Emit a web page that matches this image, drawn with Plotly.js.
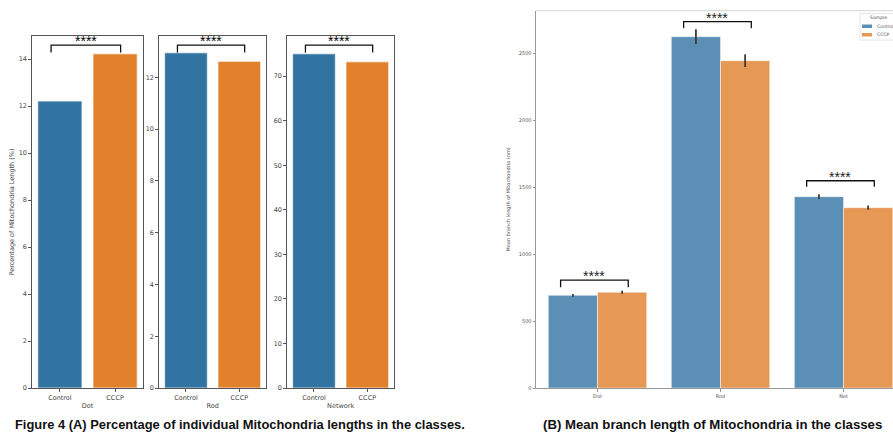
<!DOCTYPE html>
<html><head><meta charset="utf-8">
<script src="https://cdn.plot.ly/plotly-3.0.1.min.js"></script>
<style>html,body{margin:0;padding:0;background:#fff}#chart{width:893px;height:441px}</style>
</head><body><div id="chart"></div>
<script>
// ---- data ----
const groups = ['Control', 'CCCP'];
const classesA = ['Dot', 'Rod', 'Network'];
const dotPct = [12.21, 14.22];
const rodPct = [12.95, 12.62];
const netPct = [75.0, 73.2];
const yTicksDot = [0, 2, 4, 6, 8, 10, 12, 14];
const yTicksRod = [0, 2, 4, 6, 8, 10, 12];
const yTicksNet = [0, 10, 20, 30, 40, 50, 60, 70];

const classesB = ['Dot', 'Rod', 'Net'];
const branchControl = [692, 2624, 1429];
const branchCCCP = [715, 2445, 1347];
const errControl = [10, 55, 18];
const errCCCP = [12, 47, 16];
const yTicksB = [0, 500, 1000, 1500, 2000, 2500];
const sigLabel = '****';
const bracketB = [[805, 753], [2736, 2687], [1548, 1504]];

const captionA = 'Figure 4 (A) Percentage of individual Mitochondria lengths in the classes.';
const captionB = '(B) Mean branch length of Mitochondria in the classes';

// ---- styling ----
const W = 893, H = 441;
const px = x => x / W;
const py = y => 1 - y / H;
const blueA = '#3274a1', orangeA = '#e1812c';
const blueB = '#5b8fb6', orangeB = '#e69855';
const fontFam = 'DejaVu Sans, sans-serif';
const starFam = 'Liberation Sans, Arial, sans-serif';
const tickCol = '#444';

const panelsA = [
  {vals: dotPct, name: classesA[0], ticks: yTicksDot, top: 14.98, dom: [px(32.3), px(142.7)]},
  {vals: rodPct, name: classesA[1], ticks: yTicksRod, top: 13.6, dom: [px(159.3), px(266)]},
  {vals: netPct, name: classesA[2], ticks: yTicksNet, top: 79.0, dom: [px(287.3), px(394)]}
];

const traces = [];
const layout = {
  width: W, height: H,
  margin: {l: 0, r: 0, t: 0, b: 0},
  paper_bgcolor: '#fff', plot_bgcolor: '#fff',
  showlegend: false,
  bargap: 0.2, bargroupgap: 0,
  font: {family: fontFam, color: tickCol, size: 7},
  shapes: [], annotations: []
};

panelsA.forEach((p, i) => {
  const n = i + 1;
  const xa = 'x' + (n === 1 ? '' : n), ya = 'y' + (n === 1 ? '' : n);
  traces.push({
    type: 'bar', x: groups, y: p.vals, xaxis: xa, yaxis: ya,
    marker: {color: [blueA, orangeA], line: {color: 'rgba(255,255,255,0.7)', width: 1}},
    hoverinfo: 'x+y'
  });
  const axBase = {
    showgrid: false, zeroline: false, showline: true, mirror: true,
    linecolor: '#555', linewidth: 1, ticks: 'outside', ticklen: 3, tickcolor: '#555',
    tickfont: {size: 6.5, color: tickCol, family: fontFam}
  };
  layout['xaxis' + (n === 1 ? '' : n)] = Object.assign({}, axBase, {
    domain: p.dom, anchor: ya, type: 'category', range: [-0.5, 1.5],
    title: {text: p.name, font: {size: 6.5, color: tickCol}, standoff: 2}
  });
  layout['yaxis' + (n === 1 ? '' : n)] = Object.assign({}, axBase, {
    domain: [py(388), py(36)], anchor: xa, range: [0, p.top],
    tickvals: p.ticks, ticktext: p.ticks.map(String),
    title: i === 0 ? {text: 'Percentage of Mitochondria Length (%)', font: {size: 6.5, color: tickCol}, standoff: 3} : undefined
  });
  // significance bracket
  const yr = ya + ' domain';
  layout.shapes.push({
    type: 'path', xref: xa, yref: yr,
    path: 'M -0.16 0.953 L -0.16 0.974 L 1.1 0.974 L 1.1 0.953',
    line: {color: '#111', width: 1.3}
  });
  layout.annotations.push({
    xref: xa, yref: yr, x: 0.47, y: 0.974, text: sigLabel, showarrow: false,
    yanchor: 'bottom', yshift: -6, font: {size: 14, color: '#000000', family: starFam}
  });
});

// panel B
traces.push({
  type: 'bar', name: groups[0], x: classesB, y: branchControl, xaxis: 'x4', yaxis: 'y4',
  marker: {color: blueB, line: {color: 'rgba(255,255,255,0.6)', width: 0.8}},
  error_y: {type: 'data', array: errControl, visible: true, color: '#3c3c3c', thickness: 1.8, width: 0}
});
traces.push({
  type: 'bar', name: groups[1], x: classesB, y: branchCCCP, xaxis: 'x4', yaxis: 'y4',
  marker: {color: orangeB, line: {color: 'rgba(255,255,255,0.6)', width: 0.8}},
  error_y: {type: 'data', array: errCCCP, visible: true, color: '#3c3c3c', thickness: 1.8, width: 0}
});
layout.barmode = 'group';
layout.xaxis4 = {
  domain: [px(536), 1], anchor: 'y4', type: 'category', range: [-0.5, 2.402],
  showgrid: false, zeroline: false, showline: true, linecolor: '#999', linewidth: 1,
  ticks: 'outside', ticklen: 2.5, tickcolor: '#999',
  tickfont: {size: 5, color: '#555', family: fontFam}
};
layout.yaxis4 = {
  domain: [py(388), py(10.7)], anchor: 'x4', range: [0, 2818],
  tickvals: yTicksB, ticktext: yTicksB.map(String),
  showgrid: false, zeroline: false, showline: true, linecolor: '#999', linewidth: 1,
  ticks: 'outside', ticklen: 2.5, tickcolor: '#999',
  tickfont: {size: 5, color: '#555', family: fontFam},
  title: {text: 'Mean branch length of Mitochondria (nm)', font: {size: 5, color: '#555'}, standoff: 8}
};
// top spine of panel B
layout.shapes.push({type: 'line', xref: 'x4 domain', yref: 'y4 domain', x0: 0, x1: 1, y0: 1, y1: 1,
  line: {color: '#d6d6d6', width: 1}});
bracketB.forEach((b, i) => {
  const l = i - 0.3, r = i + 0.25;
  layout.shapes.push({
    type: 'path', xref: 'x4', yref: 'y4',
    path: `M ${l} ${b[1]} L ${l} ${b[0]} L ${r} ${b[0]} L ${r} ${b[1]}`,
    line: {color: '#111', width: 1.3}
  });
  layout.annotations.push({
    xref: 'x4', yref: 'y4', x: (l + r) / 2, y: b[0], text: sigLabel, showarrow: false,
    yanchor: 'bottom', yshift: -6, font: {size: 14, color: '#222222', family: starFam}
  });
});

// manual legend (box runs past the right edge as in the reference)
layout.shapes.push({type: 'rect', xref: 'paper', yref: 'paper', x0: px(860), x1: px(905), y0: py(40), y1: py(13.5),
  line: {color: '#e0e0e0', width: 0.8}, fillcolor: 'rgba(255,255,255,0.8)'});
layout.shapes.push({type: 'rect', xref: 'paper', yref: 'paper', x0: px(862), x1: px(872), y0: py(28), y1: py(24.5),
  line: {width: 0}, fillcolor: blueB});
layout.shapes.push({type: 'rect', xref: 'paper', yref: 'paper', x0: px(862), x1: px(872), y0: py(36.5), y1: py(33),
  line: {width: 0}, fillcolor: orangeB});
layout.annotations.push({xref: 'paper', yref: 'paper', x: px(878), y: py(17.5), text: 'Sample', showarrow: false,
  xanchor: 'center', yanchor: 'middle', font: {size: 4.6, color: '#555'}});
layout.annotations.push({xref: 'paper', yref: 'paper', x: px(874.5), y: py(26.3), text: groups[0], showarrow: false,
  xanchor: 'left', yanchor: 'middle', font: {size: 4.6, color: '#555'}});
layout.annotations.push({xref: 'paper', yref: 'paper', x: px(874.5), y: py(34.8), text: groups[1], showarrow: false,
  xanchor: 'left', yanchor: 'middle', font: {size: 4.6, color: '#555'}});

// captions
const capFam = 'Liberation Sans, Arial, sans-serif';
layout.annotations.push({xref: 'paper', yref: 'paper', x: px(13), y: py(424), text: '<b>' + captionA + '</b>',
  showarrow: false, xanchor: 'left', yanchor: 'middle', font: {size: 12.9, color: '#111', family: capFam}});
layout.annotations.push({xref: 'paper', yref: 'paper', x: px(541), y: py(424), text: '<b>' + captionB + '</b>',
  showarrow: false, xanchor: 'left', yanchor: 'middle', font: {size: 13.2, color: '#111', family: capFam}});

Plotly.newPlot('chart', traces, layout, {staticPlot: true, displayModeBar: false});
</script>
</body></html>
